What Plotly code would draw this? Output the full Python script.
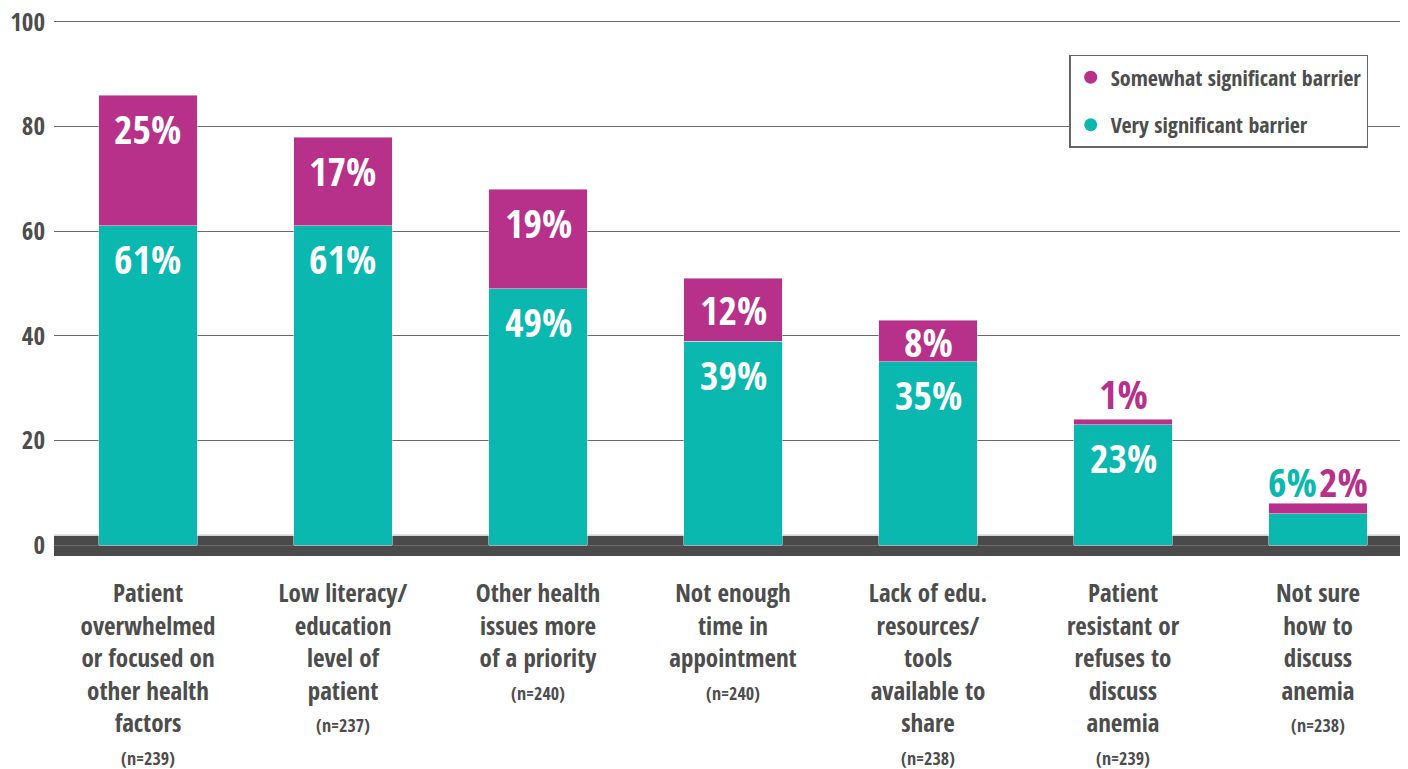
import plotly.graph_objects as go

categories = [
    "Patient<br>overwhelmed<br>or focused on<br>other health<br>factors",
    "Low literacy/<br>education<br>level of<br>patient",
    "Other health<br>issues more<br>of a priority",
    "Not enough<br>time in<br>appointment",
    "Lack of edu.<br>resources/<br>tools<br>available to<br>share",
    "Patient<br>resistant or<br>refuses to<br>discuss<br>anemia",
    "Not sure<br>how to<br>discuss<br>anemia",
]
n_values = [239, 237, 240, 240, 238, 239, 238]
very_significant = [61, 61, 49, 39, 35, 23, 6]
somewhat_significant = [25, 17, 19, 12, 8, 1, 2]
y_ticks = [0, 20, 40, 60, 80, 100]

TEAL = "#0ab8b0"
MAGENTA = "#b7318a"
TEXT = "#4d4d4d"
FONT = "Open Sans Condensed, Roboto Condensed, DejaVu Sans Condensed, sans-serif"

x_pos = list(range(len(categories)))
ticktext = [f"{c}<br><span style='font-size:18px'>(n={n})</span>" for c, n in zip(categories, n_values)]

fig = go.Figure()
fig.add_trace(go.Bar(x=x_pos, y=very_significant, marker_color=TEAL, width=0.503,
                     showlegend=False, hoverinfo="skip"))
fig.add_trace(go.Bar(x=x_pos, y=somewhat_significant, marker_color=MAGENTA, width=0.503,
                     showlegend=False, hoverinfo="skip"))
# legend entries with circle markers
fig.add_trace(go.Scatter(x=[None], y=[None], mode="markers", name="Somewhat significant barrier",
                         marker=dict(color=MAGENTA, size=13, symbol="circle"), legendgroup="a"))
fig.add_trace(go.Scatter(x=[None], y=[None], mode="markers", name="Very significant barrier",
                         marker=dict(color=TEAL, size=13, symbol="circle"), legendgroup="b"))

PX_PER_UNIT = 5.23
LBL = 40
annotations = []
for i, (v, s) in enumerate(zip(very_significant, somewhat_significant)):
    top = v + s
    if s >= 5:
        seg_px = s * PX_PER_UNIT
        off = min(33, seg_px / 2)
        annotations.append(dict(x=i, y=top, text=f"{s}%", showarrow=False, yanchor="middle",
                                yshift=-off, font=dict(size=LBL, color="white", family=FONT, weight="bold")))
    if v >= 10:
        annotations.append(dict(x=i, y=v, text=f"{v}%", showarrow=False, yanchor="middle",
                                yshift=-33, font=dict(size=LBL, color="white", family=FONT, weight="bold")))
    if s < 5 and v >= 10:
        annotations.append(dict(x=i, y=top, text=f"{s}%", showarrow=False, yanchor="middle",
                                yshift=26, font=dict(size=LBL, color=MAGENTA, family=FONT, weight="bold")))
    if v < 10:
        annotations.append(dict(x=i, y=top, text=f"{v}%", showarrow=False, yanchor="middle",
                                xanchor="right", xshift=1,
                                yshift=22, font=dict(size=LBL, color=TEAL, family=FONT, weight="bold")))
        annotations.append(dict(x=i, y=top, text=f"{s}%", showarrow=False, yanchor="middle",
                                xanchor="left", xshift=-1,
                                yshift=22, font=dict(size=LBL, color=MAGENTA, family=FONT, weight="bold")))

fig.update_layout(
    width=1400, height=761,
    margin=dict(l=46, r=4, t=12, b=213, autoexpand=False),
    barmode="stack",
    plot_bgcolor="white", paper_bgcolor="white",
    font=dict(family=FONT, color=TEXT, weight="bold"),
    annotations=annotations,
    legend=dict(x=0.752, y=0.935, xanchor="left", yanchor="top",
                bordercolor="#666666", borderwidth=1.5, bgcolor="white",
                font=dict(size=22, color=TEXT, family=FONT, weight="bold"),
                traceorder="grouped", tracegroupgap=16, itemwidth=30),
    shapes=[
        dict(type="rect", xref="paper", yref="y", x0=0, x1=1, y0=-2.1, y1=1.72,
             fillcolor="#4a4a4a", line_width=0, layer="below"),
        dict(type="line", xref="paper", yref="y", x0=0, x1=1, y0=1.9, y1=1.9,
             line=dict(color="#bbbbbb", width=1), layer="below"),
    ],
)
fig.update_xaxes(range=[-0.482, 6.441], tickvals=x_pos, ticktext=ticktext, automargin=False,
                 tickfont=dict(size=25, color=TEXT, family=FONT, weight="bold"),
                 showgrid=False, zeroline=False, showline=False, ticks="", ticklabelstandoff=20,
                 ticklabeloverflow="allow")
fig.update_yaxes(range=[-2.1, 100.38], tickvals=y_ticks, automargin=False,
                 tickfont=dict(size=25, color=TEXT, family=FONT, weight="bold"),
                 showgrid=True, gridcolor="#6a6a6a", gridwidth=1.3, zeroline=False,
                 showline=False, ticks="", ticklabelstandoff=8, ticklabeloverflow="allow")

fig.write_html("out.html")
